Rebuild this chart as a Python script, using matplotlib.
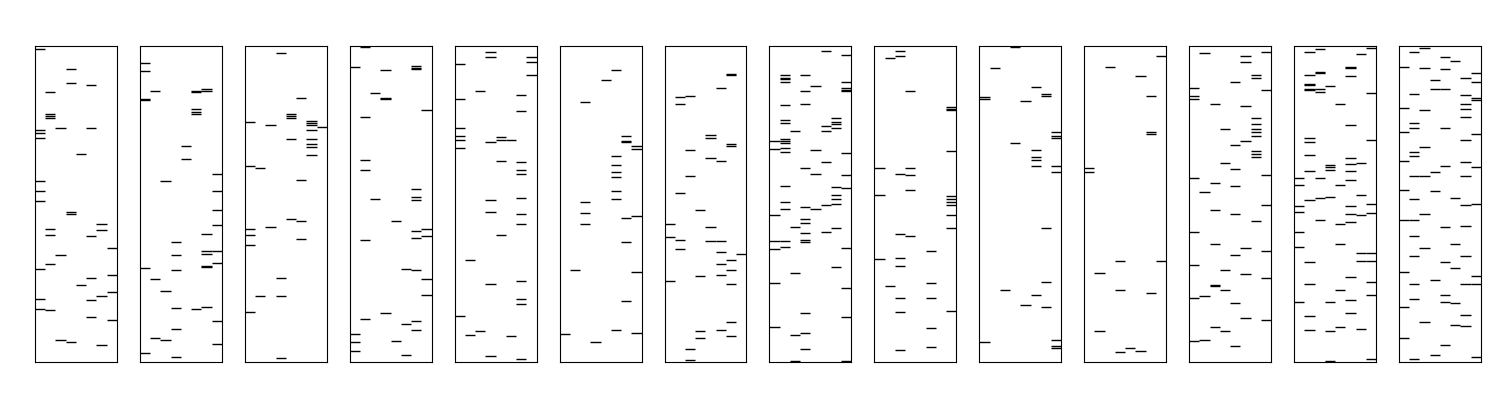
import matplotlib
matplotlib.use("Agg")
import matplotlib.pyplot as plt

# event positions per panel, 8 channels each (depth units, 0 = top, 948 = bottom)
panel_01 = [[10, 253, 262, 277, 406, 436, 466, 670, 760, 790],
            [139, 205, 211, 217, 550, 568, 655, 793],
            [247, 628, 883],
            [70, 112, 499, 505, 889],
            [325, 718],
            [118, 247, 571, 697, 763, 814],
            [535, 553, 751, 898],
            [607, 688, 739, 823]]
panel_02 = [[52, 76, 158, 163, 667, 922],
            [136, 700, 877],
            [406, 736, 883],
            [589, 628, 673, 787, 850, 934],
            [301, 340],
            [136, 139, 190, 197, 205, 790],
            [130, 135, 565, 616, 625, 660, 664, 784],
            [385, 436, 493, 538, 616, 652, 826, 895]]
panel_03 = [[229, 361, 550, 568, 598, 799],
            [367, 751],
            [238, 544],
            [22, 697, 751, 937],
            [205, 211, 217, 280, 520],
            [157, 403, 526, 580],
            [226, 232, 238, 253, 280, 295, 304, 328],
            [244]]
panel_04 = [[64, 865, 889, 916],
            [2, 214, 343, 373, 583, 820],
            [142, 460],
            [73, 157, 160, 802],
            [526, 886],
            [670, 835, 928],
            [61, 67, 69, 430, 454, 463, 556, 577, 673, 826, 853],
            [193, 550, 571, 700, 748]]
panel_05 = [[55, 160, 247, 271, 283, 307, 811],
            [643, 868],
            [136, 856],
            [19, 34, 289, 463, 499, 715, 931],
            [274, 283, 346, 568],
            [283, 871],
            [148, 196, 349, 373, 385, 457, 505, 535, 706, 760, 775, 940],
            [34, 49, 88]]
panel_06 = [[865],
            [673],
            [169, 469, 502, 535],
            [889],
            [103],
            [73, 331, 358, 379, 394, 436, 460, 853],
            [271, 285, 289, 517, 589, 766],
            [301, 310, 511, 679, 862]]
panel_07 = [[535, 574, 706],
            [154, 175, 442, 583, 610],
            [151, 313, 391, 910, 943],
            [493, 691, 856, 877],
            [268, 277, 337, 544, 586],
            [127, 346, 586, 619, 655, 688, 853],
            [85, 88, 295, 301, 643, 673, 715, 829, 871],
            [625]]
panel_08 = [[286, 310, 508, 586, 610, 712, 844],
            [88, 96, 100, 109, 178, 223, 232, 280, 286, 292, 307, 319, 421, 469, 490, 586, 604],
            [256, 544, 682, 868, 945],
            [88, 136, 175, 367, 484, 520, 532, 562, 583, 589, 802, 862, 910],
            [121, 313, 385, 490],
            [16, 241, 256, 349, 478, 559],
            [217, 229, 235, 247, 424, 448, 460, 475, 547, 664],
            [28, 109, 127, 132, 135, 322, 388, 427, 607, 727, 814, 945]]
panel_09 = [[367, 448, 640],
            [37, 721],
            [16, 31, 385, 565, 637, 661, 757, 799, 913],
            [136, 367, 388, 433, 571],
            [],
            [616, 712, 757, 847, 904],
            [],
            [184, 189, 192, 316, 451, 460, 469, 478, 508, 547, 796]]
panel_10 = [[154, 160, 889],
            [67],
            [733],
            [2, 292],
            [166, 778],
            [124, 313, 334, 343, 361, 748],
            [145, 151, 547, 709, 784],
            [259, 271, 277, 361, 379, 883, 899, 907]]
panel_11 = [[367, 379],
            [682, 856],
            [64],
            [646, 733, 919],
            [907],
            [91, 916],
            [151, 259, 265, 742],
            [31, 646]]
panel_12 = [[126, 150, 159, 396, 558, 657, 756, 885],
            [21, 438, 750, 882],
            [174, 411, 492, 594, 717, 720, 843],
            [249, 351, 672, 732, 855],
            [108, 297, 369, 420, 504, 627, 771, 900],
            [30, 48, 180, 285, 606, 684, 816],
            [87, 96, 216, 234, 249, 258, 270, 315, 324, 333, 525],
            [18, 132, 387, 477, 615, 696, 822]]
panel_13 = [[397, 418, 481, 499, 559, 604, 769],
            [19, 88, 114, 118, 128, 132, 277, 289, 328, 376, 463, 649, 715, 811, 853],
            [10, 79, 82, 130, 139, 397, 457, 523],
            [121, 358, 364, 373, 454, 769, 856, 945],
            [175, 418, 535, 595, 733, 844],
            [64, 67, 91, 238, 337, 355, 376, 403, 481, 505, 529, 694, 763, 802],
            [25, 352, 448, 508, 622, 646, 850],
            [7, 142, 283, 475, 502, 622, 646, 709, 748, 940]]
panel_14 = [[63, 186, 258, 345, 432, 522, 678, 783, 876],
            [18, 144, 231, 246, 318, 330, 390, 459, 522, 570, 630, 714, 759, 939],
            [6, 66, 192, 303, 390, 504, 606, 828],
            [102, 129, 378, 435, 702, 927],
            [33, 69, 129, 246, 360, 543, 648, 747, 768, 897],
            [45, 456, 594, 666, 771, 837],
            [96, 147, 174, 189, 213, 282, 348, 390, 477, 540, 630, 714, 807, 840],
            [81, 108, 156, 162, 264, 363, 474, 690, 714, 933]]

panels = [panel_01, panel_02, panel_03, panel_04, panel_05, panel_06, panel_07,
          panel_08, panel_09, panel_10, panel_11, panel_12, panel_13, panel_14]

fig, axes = plt.subplots(1, len(panels), figsize=(15, 4), dpi=100)
fig.subplots_adjust(left=0.0233, right=0.9873, bottom=0.095, top=0.885, wspace=0.28)

for ax, data in zip(axes, panels):
    ax.eventplot(data, orientation='vertical', lineoffsets=range(len(data)),
                 linelengths=1, linewidths=1.0, colors='black')
    ax.set_xlim(-0.5, len(data) - 0.5)
    ax.set_ylim(948, 0)
    ax.set_xticks([])
    ax.set_yticks([])
    for sp in ax.spines.values():
        sp.set_linewidth(0.8)
        sp.set_color('black')

fig.savefig("out.png", dpi=100, facecolor='white')
